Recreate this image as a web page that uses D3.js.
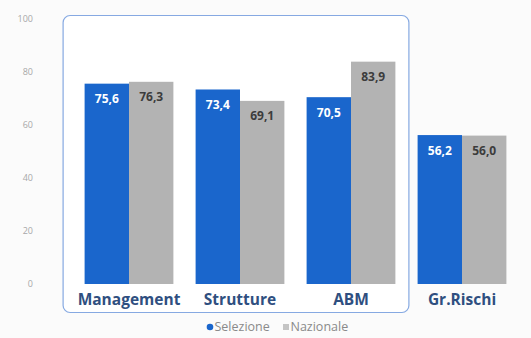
<!DOCTYPE html>
<html>
<head>
<meta charset="utf-8">
<script src="https://cdn.jsdelivr.net/npm/d3@7"></script>
<style>
  html, body { margin: 0; padding: 0; background: #fbfbfb; }
  svg { display: block; font-family: "Open Sans", "Noto Sans", sans-serif; }
</style>
</head>
<body>
<svg id="chart" width="531" height="338"></svg>
<script>
// Categories and series
const categories = ["Management", "Strutture", "ABM", "Gr.Rischi"];
const selezione = [75.6, 73.4, 70.5, 56.2];
const nazionale = [76.3, 69.1, 83.9, 56.0];
const seriesNames = ["Selezione", "Nazionale"];
const yTicks = [0, 20, 40, 60, 80, 100];
const framedCategories = ["Management", "Strutture", "ABM"];

const colors = { Selezione: "#1a66cc", Nazionale: "#b3b3b3" };
const labelColors = { Selezione: "#ffffff", Nazionale: "#3c3c3c" };

const svg = d3.select("#chart");

const x = d3.scaleBand()
  .domain(categories)
  .range([73.5, 517.5])
  .paddingInner(0.2)
  .paddingOuter(0.1);

const xs = d3.scaleBand()
  .domain(seriesNames)
  .range([0, x.bandwidth()]);

const y = d3.scaleLinear().domain([0, 100]).range([284, 19]);

const fmt = v => d3.format(".1f")(v).replace(".", ",");

// Rounded frame around the first three categories
const fx0 = x(framedCategories[0]) - 22;
const fx1 = x(framedCategories[framedCategories.length - 1]) + x.bandwidth() + 13;
svg.append("rect")
  .attr("x", fx0 + 0.5).attr("y", 15.5)
  .attr("width", fx1 - fx0).attr("height", 297)
  .attr("rx", 7).attr("ry", 7)
  .attr("fill", "#ffffff")
  .attr("stroke", "#86a9e2")
  .attr("stroke-width", 1.2);

// Y axis labels (no line, no ticks)
const yAxis = d3.axisLeft(y).tickValues(yTicks).tickSize(0).tickPadding(0);
const gy = svg.append("g").attr("transform", "translate(33,0)").call(yAxis);
gy.select(".domain").remove();
gy.selectAll("text")
  .attr("fill", "#a8a8a8")
  .attr("font-size", 9)
  .attr("font-family", "'Open Sans', sans-serif");

// Bars
const rows = categories.map((c, i) => ({
  cat: c,
  vals: [
    { s: "Selezione", v: selezione[i] },
    { s: "Nazionale", v: nazionale[i] }
  ]
}));

const groups = svg.append("g").selectAll("g")
  .data(rows).join("g")
  .attr("transform", d => `translate(${x(d.cat)},0)`);

groups.selectAll("rect")
  .data(d => d.vals).join("rect")
  .attr("x", d => xs(d.s))
  .attr("y", d => y(d.v))
  .attr("width", xs.bandwidth())
  .attr("height", d => y(0) - y(d.v))
  .attr("fill", d => colors[d.s]);

groups.selectAll("text.val")
  .data(d => d.vals).join("text")
  .attr("class", "val")
  .attr("x", d => xs(d.s) + xs.bandwidth() / 2)
  .attr("y", d => y(d.v) + 19.5)
  .attr("text-anchor", "middle")
  .attr("font-size", 12)
  .attr("font-weight", 700)
  .attr("fill", d => labelColors[d.s])
  .text(d => fmt(d.v));

// Category labels
const xAxis = d3.axisBottom(x).tickSize(0).tickPadding(0);
const gx = svg.append("g").attr("transform", "translate(0,305)").call(xAxis);
gx.select(".domain").remove();
gx.selectAll("text")
  .attr("dy", 0)
  .attr("y", 0)
  .attr("fill", "#2f4f80")
  .attr("font-size", 15.5)
  .attr("font-weight", 700)
  .attr("font-family", "'Open Sans', sans-serif");

// Legend
const legend = svg.append("g").attr("transform", "translate(0,327)");
const legendItems = [
  { s: "Selezione", x: 210, shape: "circle" },
  { s: "Nazionale", x: 286, shape: "square" }
];
legendItems.forEach(it => {
  if (it.shape === "circle") {
    legend.append("circle").attr("cx", it.x).attr("cy", 0).attr("r", 3.3).attr("fill", colors[it.s]);
  } else {
    legend.append("rect").attr("x", it.x - 3).attr("y", -3).attr("width", 6).attr("height", 6).attr("fill", "#c4c4c4");
  }
  legend.append("text")
    .attr("x", it.x + 4.5).attr("y", 0).attr("dy", "0.35em")
    .attr("font-size", 12.5)
    .attr("fill", "#8a8a8a")
    .text(it.s);
});
</script>
</body>
</html>
